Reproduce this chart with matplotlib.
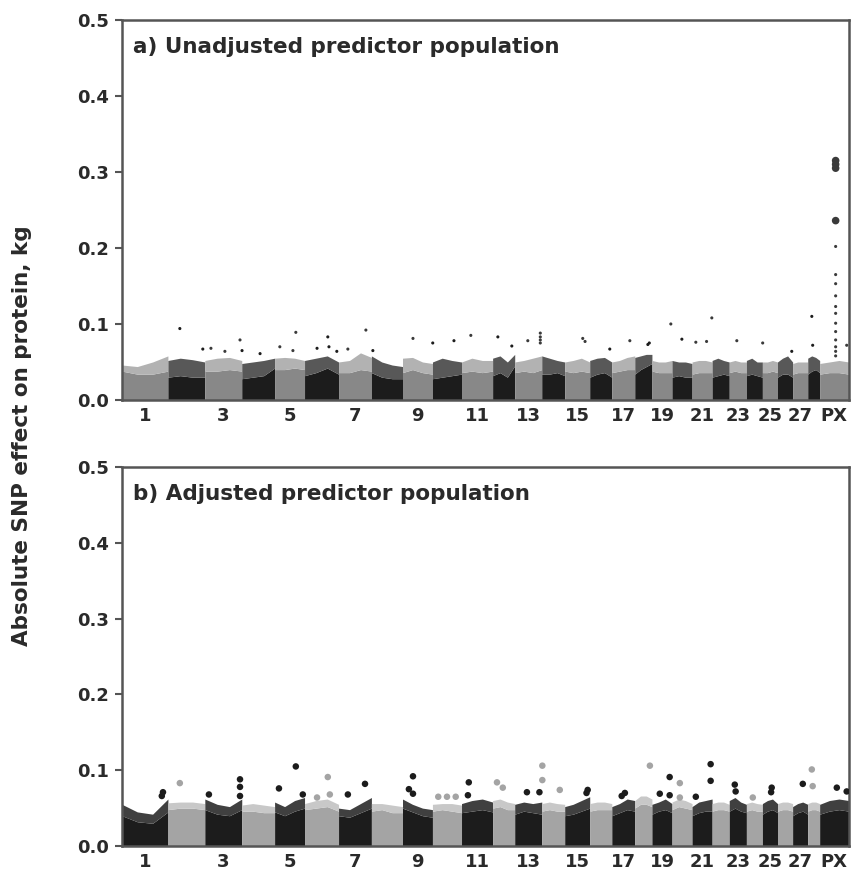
import numpy as np
import matplotlib
matplotlib.use("Agg")
import matplotlib.pyplot as plt

plt.rcParams['font.family'] = ['DejaVu Sans']
plt.rcParams['font.weight'] = 'bold'

# Chromosomes and approximate lengths (Mb)
chrom_labels = [str(i) for i in range(1, 29)] + ['PX']
chrom_len = [158, 127, 127, 113, 103, 117, 113, 107, 103, 100, 107, 76, 93, 79,
             86, 76, 79, 59, 69, 69, 69, 59, 59, 55, 52, 52, 52, 41, 100]
tick_labels = ['1', '3', '5', '7', '9', '11', '13', '15', '17', '19', '21',
               '23', '25', '27', 'PX']

# a) unadjusted: solid body top and speckled fringe top (4 values along each chromosome)
body_a = [
    [0.038, 0.034, 0.034, 0.038], [0.030, 0.032, 0.030, 0.030], [0.038, 0.038, 0.040, 0.038],
    [0.028, 0.030, 0.032, 0.042], [0.040, 0.040, 0.042, 0.040], [0.032, 0.036, 0.042, 0.034],
    [0.036, 0.036, 0.040, 0.038], [0.036, 0.030, 0.028, 0.028], [0.036, 0.040, 0.036, 0.034],
    [0.028, 0.030, 0.032, 0.034], [0.036, 0.038, 0.036, 0.038], [0.032, 0.036, 0.030, 0.045],
    [0.036, 0.038, 0.036, 0.040], [0.034, 0.034, 0.036, 0.032], [0.038, 0.036, 0.038, 0.036],
    [0.030, 0.034, 0.036, 0.030], [0.036, 0.038, 0.040, 0.040], [0.034, 0.040, 0.044, 0.048],
    [0.038, 0.036, 0.036, 0.036], [0.030, 0.032, 0.030, 0.030], [0.034, 0.036, 0.036, 0.036],
    [0.030, 0.032, 0.034, 0.032], [0.036, 0.038, 0.036, 0.036], [0.032, 0.034, 0.032, 0.030],
    [0.036, 0.036, 0.038, 0.036], [0.030, 0.034, 0.034, 0.030], [0.034, 0.036, 0.036, 0.036],
    [0.034, 0.038, 0.040, 0.036], [0.034, 0.036, 0.036, 0.034]]
fringe_a = [
    [0.046, 0.044, 0.050, 0.058], [0.052, 0.055, 0.053, 0.050], [0.052, 0.055, 0.056, 0.052],
    [0.048, 0.050, 0.052, 0.055], [0.055, 0.056, 0.055, 0.052], [0.052, 0.055, 0.058, 0.050],
    [0.050, 0.052, 0.062, 0.056], [0.058, 0.050, 0.046, 0.044], [0.055, 0.056, 0.050, 0.048],
    [0.050, 0.055, 0.052, 0.050], [0.050, 0.055, 0.052, 0.052], [0.055, 0.058, 0.050, 0.060],
    [0.050, 0.052, 0.055, 0.058], [0.058, 0.055, 0.052, 0.050], [0.050, 0.052, 0.055, 0.050],
    [0.052, 0.055, 0.056, 0.050], [0.050, 0.052, 0.056, 0.058], [0.056, 0.058, 0.060, 0.060],
    [0.052, 0.050, 0.050, 0.052], [0.052, 0.050, 0.050, 0.048], [0.050, 0.052, 0.052, 0.050],
    [0.052, 0.055, 0.052, 0.050], [0.050, 0.052, 0.050, 0.050], [0.052, 0.055, 0.050, 0.050],
    [0.050, 0.050, 0.052, 0.050], [0.050, 0.055, 0.058, 0.050], [0.048, 0.050, 0.050, 0.050],
    [0.055, 0.058, 0.056, 0.052], [0.048, 0.050, 0.052, 0.050]]

# a) individual SNPs standing out of the cloud: chromosome, position (Mb), effect
out_a_chr = ['2', '5', '7', '3', '6', '9', '10', '11', '12', '13', '13', '13', '13',
             '13', '12', '16', '17', '18', '19', '20', '21', '21', '23', '25', '26',
             '28', '28', '2', '3', '3', '4', '6', '6', '6', '7', '8', '10', '5', '5',
             '4', '15', '15', '18', '21', 'PX',
             'PX', 'PX', 'PX', 'PX', 'PX', 'PX', 'PX', 'PX', 'PX', 'PX', 'PX', 'PX',
             'PX', 'PX', 'PX', 'PX']
out_a_pos = [41, 73, 94, 121, 80, 36, 74, 32, 18, 88, 88, 88, 88,
             45, 66, 69, 62, 45, 65, 34, 13, 68, 26, 1, 49,
             14, 17, 120, 21, 69, 1, 43, 84, 111, 32, 5, 1, 18, 63,
             63, 62, 70, 50, 50, 93,
             55, 55, 55, 55, 55, 55, 55, 55, 55, 55, 55, 55,
             55, 55, 55, 55]
out_a_val = [0.094, 0.089, 0.092, 0.079, 0.083, 0.081, 0.078, 0.085, 0.083, 0.088, 0.083,
             0.079, 0.075, 0.078, 0.071, 0.067, 0.078, 0.073, 0.100, 0.080, 0.076, 0.108,
             0.078, 0.075, 0.064, 0.110, 0.072, 0.067, 0.068, 0.064, 0.065, 0.068, 0.070,
             0.064, 0.067, 0.065, 0.075, 0.070, 0.065, 0.061, 0.081, 0.077, 0.075, 0.077,
             0.072,
             0.315, 0.310, 0.305, 0.236, 0.202, 0.165, 0.153, 0.137, 0.123, 0.114, 0.101,
             0.090, 0.079, 0.070, 0.064, 0.058]
out_a_big = [0.315, 0.310, 0.305, 0.236]

# b) adjusted
body_b = [
    [0.040, 0.032, 0.030, 0.045], [0.048, 0.050, 0.050, 0.048], [0.048, 0.042, 0.040, 0.048],
    [0.046, 0.046, 0.044, 0.044], [0.045, 0.040, 0.046, 0.050], [0.048, 0.050, 0.052, 0.046],
    [0.040, 0.038, 0.044, 0.050], [0.046, 0.048, 0.044, 0.044], [0.050, 0.045, 0.040, 0.038],
    [0.046, 0.048, 0.046, 0.044], [0.044, 0.046, 0.048, 0.045], [0.050, 0.052, 0.048, 0.048],
    [0.042, 0.046, 0.044, 0.042], [0.046, 0.048, 0.046, 0.046], [0.040, 0.042, 0.046, 0.050],
    [0.046, 0.048, 0.048, 0.048], [0.040, 0.044, 0.048, 0.046], [0.050, 0.055, 0.055, 0.052],
    [0.042, 0.046, 0.048, 0.044], [0.048, 0.052, 0.050, 0.048], [0.040, 0.044, 0.046, 0.046],
    [0.046, 0.048, 0.048, 0.046], [0.046, 0.050, 0.046, 0.044], [0.046, 0.048, 0.046, 0.046],
    [0.042, 0.046, 0.048, 0.044], [0.046, 0.048, 0.048, 0.046], [0.040, 0.044, 0.046, 0.042],
    [0.046, 0.048, 0.048, 0.046], [0.042, 0.046, 0.048, 0.046]]
fringe_b = [
    [0.055, 0.045, 0.042, 0.062], [0.057, 0.058, 0.058, 0.056], [0.062, 0.055, 0.052, 0.062],
    [0.054, 0.056, 0.054, 0.052], [0.058, 0.052, 0.060, 0.064], [0.056, 0.060, 0.062, 0.055],
    [0.050, 0.048, 0.056, 0.064], [0.056, 0.056, 0.054, 0.052], [0.062, 0.055, 0.050, 0.048],
    [0.055, 0.056, 0.056, 0.054], [0.056, 0.060, 0.062, 0.058], [0.060, 0.062, 0.058, 0.056],
    [0.055, 0.058, 0.056, 0.058], [0.056, 0.058, 0.056, 0.055], [0.052, 0.055, 0.060, 0.065],
    [0.056, 0.058, 0.058, 0.056], [0.052, 0.056, 0.062, 0.060], [0.060, 0.066, 0.066, 0.062],
    [0.055, 0.058, 0.062, 0.056], [0.058, 0.062, 0.060, 0.056], [0.052, 0.058, 0.060, 0.062],
    [0.056, 0.058, 0.058, 0.055], [0.060, 0.064, 0.058, 0.055], [0.056, 0.058, 0.056, 0.055],
    [0.056, 0.060, 0.062, 0.056], [0.056, 0.058, 0.058, 0.056], [0.052, 0.056, 0.058, 0.055],
    [0.056, 0.058, 0.058, 0.056], [0.055, 0.060, 0.062, 0.060]]

out_b_chr = ['5', '6', '6', '2', '3', '3', '3', '5', '9', '9', '9', '7', '7', '1', '1',
             '3', '11', '11', '6', '10', '10', '10', '5', '14', '14', '13', '18', '21',
             '21', '19', '20', '28', '28', '27', '23', '23', '25', '25', '12', '12', '15',
             '15', '14', '13', '19', '19', '21', '17', '17', '24', '20', 'PX', 'PX']
out_b_pos = [73, 80, 87, 41, 121, 121, 121, 15, 36, 22, 36, 91, 32, 141, 137,
             14, 25, 22, 43, 20, 50, 80, 97, 2, 2, 85, 52, 64,
             64, 61, 27, 14, 17, 35, 19, 22, 32, 30, 15, 35, 79,
             75, 62, 42, 27, 61, 13, 34, 45, 22, 27, 59, 93]
out_b_val = [0.105, 0.091, 0.068, 0.083, 0.088, 0.078, 0.066, 0.076, 0.092, 0.075, 0.069,
             0.082, 0.068, 0.071, 0.066, 0.068, 0.084, 0.067, 0.064, 0.065, 0.065, 0.065,
             0.068, 0.106, 0.087, 0.071, 0.106, 0.108, 0.086, 0.091, 0.083, 0.101, 0.079,
             0.082, 0.081, 0.072, 0.077, 0.071, 0.084, 0.077, 0.074, 0.070, 0.074, 0.071,
             0.069, 0.067, 0.065, 0.066, 0.070, 0.064, 0.064, 0.077, 0.072]

starts = np.concatenate([[0], np.cumsum(chrom_len)[:-1]])
total = float(np.sum(chrom_len))
centers = starts + np.array(chrom_len) / 2.0


def draw_panel(ax, body, fringe, out_chr, out_pos, out_val, colors, fcolors,
               dotcolors, msize, big=None):
    for i, L in enumerate(chrom_len):
        x = starts[i] + np.linspace(0, L, 4)
        ax.fill_between(x, 0, body[i], color=colors[i % 2], lw=0, zorder=2)
        # thinner upper edge of the SNP cloud
        ax.fill_between(x, body[i], fringe[i], color=fcolors[i % 2], lw=0, zorder=2)
    idx = [chrom_labels.index(c) for c in out_chr]
    xs = starts[idx] + np.array(out_pos)
    cs = [dotcolors[i % 2] for i in idx]
    sizes = [msize * 6 if (big is not None and v in big) else msize for v in out_val]
    ax.scatter(xs, out_val, s=sizes, c=cs, lw=0, zorder=3)
    ax.set_xlim(0, total)
    ax.set_ylim(0, 0.5)
    yt = np.arange(0, 0.51, 0.1)
    ax.set_yticks(yt)
    ax.set_yticklabels(['%.1f' % v for v in yt], fontsize=13, fontweight='bold',
                       color='#2a2a2a')
    odd = [chrom_labels.index(t) for t in tick_labels]
    ax.set_xticks(centers[odd])
    ax.set_xticklabels(tick_labels, fontsize=13, fontweight='bold', color='#2a2a2a')
    ax.tick_params(axis='x', length=0, pad=5)
    ax.tick_params(axis='y', direction='out', length=5, width=1.5, color='#555555', pad=4)
    for s in ax.spines.values():
        s.set_linewidth(1.8)
        s.set_color('#555555')


fig = plt.figure(figsize=(8.56, 8.72), dpi=100)
ax1 = fig.add_axes([0.1425, 0.5413, 0.849, 0.4358])
ax2 = fig.add_axes([0.1425, 0.0298, 0.849, 0.4346])

draw_panel(ax1, body_a, fringe_a, out_a_chr, out_a_pos, out_a_val,
           ['#888888', '#1c1c1c'], ['#b2b2b2', '#585858'], ['#3a3a3a', '#1c1c1c'],
           5, big=out_a_big)
draw_panel(ax2, body_b, fringe_b, out_b_chr, out_b_pos, out_b_val,
           ['#1c1c1c', '#a4a4a4'], ['#404040', '#c8c8c8'], ['#1c1c1c', '#a4a4a4'], 22)

ax1.text(0.015, 0.955, 'a) Unadjusted predictor population', transform=ax1.transAxes,
         fontsize=15.5, fontweight='bold', color='#2a2a2a', va='top')
ax2.text(0.015, 0.955, 'b) Adjusted predictor population', transform=ax2.transAxes,
         fontsize=15.5, fontweight='bold', color='#2a2a2a', va='top')

fig.text(0.026, 0.5, 'Absolute SNP effect on protein, kg', rotation=90, va='center',
         ha='center', fontsize=15.5, fontweight='bold', color='#2a2a2a')

fig.savefig('out.png', dpi=100)
